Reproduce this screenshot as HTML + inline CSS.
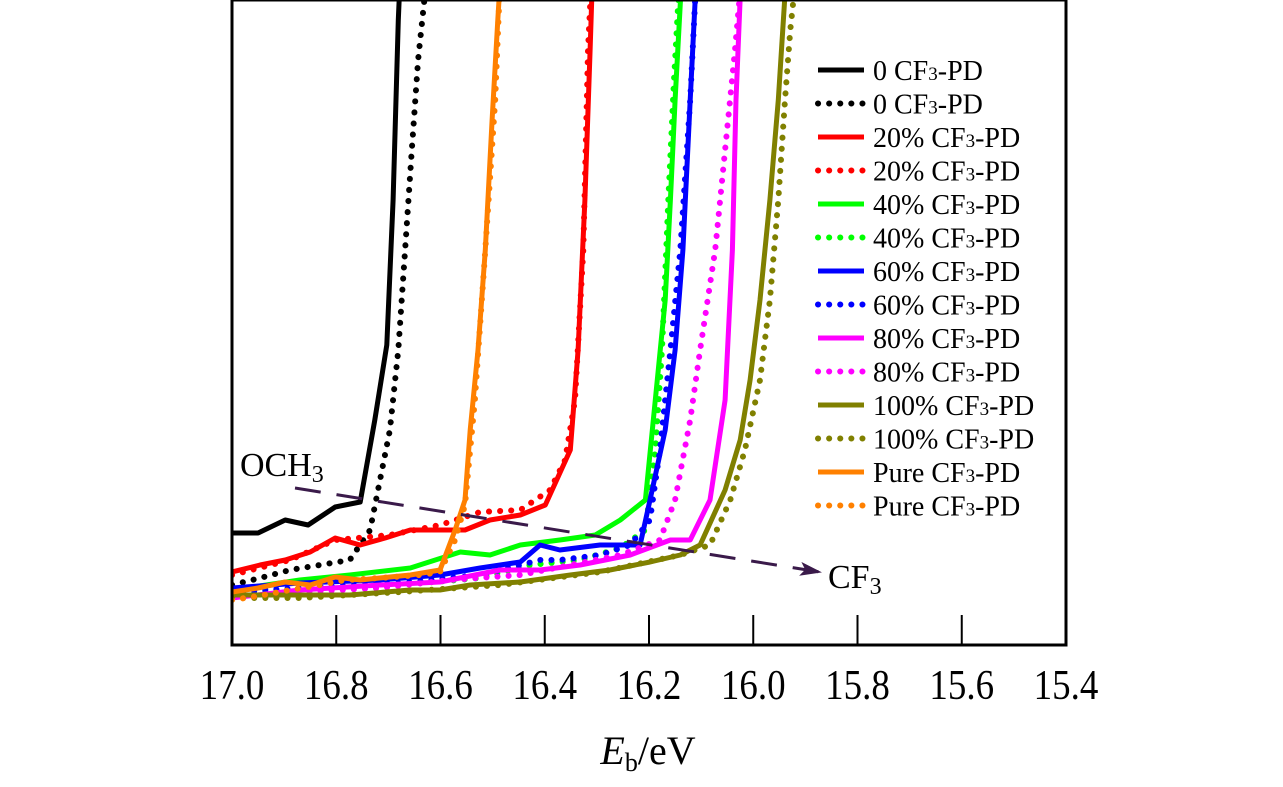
<!DOCTYPE html>
<html><head><meta charset="utf-8"><style>
html,body{margin:0;padding:0;background:#fff;}
svg{display:block;font-family:"Liberation Serif",serif;}
</style></head><body>
<svg id="c" width="1283" height="787" viewBox="0 0 1283 787"></svg>
<script>
const xTicks=[17.0,16.8,16.6,16.4,16.2,16.0,15.8,15.6,15.4];
const xTickLabels=["17.0","16.8","16.6","16.4","16.2","16.0","15.8","15.6","15.4"];
const seriesNames=["0 CF3-PD","0 CF3-PD","20% CF3-PD","20% CF3-PD","40% CF3-PD","40% CF3-PD","60% CF3-PD","60% CF3-PD","80% CF3-PD","80% CF3-PD","100% CF3-PD","100% CF3-PD","Pure CF3-PD","Pure CF3-PD"];
const seriesColors=["#000","#000","#f00","#f00","#0f0","#0f0","#00f","#00f","#f0f","#f0f","#808000","#808000","#ff8000","#ff8000"];
const seriesDotted=[0,1,0,1,0,1,0,1,0,1,0,1,0,1];
const s0=[[17,112],[16.95,112],[16.898,125],[16.854,120],[16.802,138],[16.754,143],[16.726,225],[16.703,300],[16.691,445],[16.681,625],[16.678,660]];
const s1=[[17,60],[16.946,67],[16.889,75],[16.831,80],[16.774,85],[16.735,115],[16.716,165],[16.697,215],[16.681,295],[16.668,395],[16.655,495],[16.643,585],[16.628,660]];
const s2=[[17,73],[16.946,80],[16.898,85],[16.85,93],[16.802,107],[16.754,100],[16.706,107],[16.658,115],[16.601,115],[16.553,115],[16.505,125],[16.447,130],[16.399,140],[16.351,195],[16.336,295],[16.323,445],[16.313,595],[16.309,660]];
const s3=[[17,70],[16.889,85],[16.802,105],[16.697,110],[16.601,120],[16.524,133],[16.447,135],[16.39,155],[16.361,185],[16.342,245],[16.326,395],[16.317,595],[16.311,660]];
const s4=[[17,55],[16.87,65],[16.774,70],[16.658,77],[16.562,93],[16.505,90],[16.447,100],[16.371,105],[16.303,110],[16.255,125],[16.207,145],[16.188,245],[16.169,345],[16.159,445],[16.15,545],[16.138,660]];
const s5=[[17,50],[16.87,55],[16.678,60],[16.524,67],[16.428,80],[16.332,85],[16.255,97],[16.207,115],[16.188,195],[16.175,295],[16.163,445],[16.152,565],[16.142,660]];
const s6=[[17,57],[16.87,62],[16.716,65],[16.601,70],[16.524,77],[16.447,83],[16.409,100],[16.371,95],[16.294,100],[16.217,100],[16.198,145],[16.169,215],[16.15,295],[16.135,395],[16.121,545],[16.11,660]];
const s7=[[17,53],[16.87,57],[16.678,62],[16.524,70],[16.409,85],[16.371,85],[16.294,90],[16.236,100],[16.198,125],[16.179,195],[16.159,295],[16.14,395],[16.121,545],[16.11,660]];
const s8=[[17,47],[16.87,55],[16.716,60],[16.601,63],[16.486,75],[16.409,75],[16.332,80],[16.236,90],[16.159,105],[16.121,105],[16.083,145],[16.054,245],[16.04,395],[16.033,545],[16.024,660]];
const s9=[[17,47],[16.87,53],[16.716,57],[16.582,65],[16.447,70],[16.351,80],[16.255,90],[16.179,105],[16.15,145],[16.121,225],[16.102,295],[16.073,395],[16.054,495],[16.035,595],[16.024,660]];
const s10=[[17,50],[16.889,50],[16.774,50],[16.658,55],[16.601,55],[16.543,60],[16.447,63],[16.351,70],[16.275,75],[16.198,83],[16.14,90],[16.102,100],[16.054,155],[16.025,205],[16.006,265],[15.987,345],[15.968,445],[15.952,545],[15.938,660]];
const s11=[[17,47],[16.87,47],[16.678,53],[16.486,60],[16.294,73],[16.14,90],[16.083,100],[16.044,145],[16.016,195],[15.987,265],[15.968,345],[15.952,445],[15.939,545],[15.929,615],[15.92,660]];
const s12=[[17,53],[16.95,57],[16.898,63],[16.85,60],[16.802,68],[16.754,65],[16.697,68],[16.658,70],[16.601,75],[16.572,115],[16.553,145],[16.543,215],[16.528,295],[16.514,395],[16.501,525],[16.49,625],[16.486,660]];
const s13=[[17,45],[16.95,49],[16.889,55],[16.831,60],[16.783,65],[16.716,67],[16.639,70],[16.601,73],[16.572,105],[16.553,140],[16.534,245],[16.514,395],[16.495,545],[16.486,660]];
const allSeries=[s0,s1,s2,s3,s4,s5,s6,s7,s8,s9,s10,s11,s12,s13];
const L=232,R=1066,T=0,B=645;
const xs=v=>L+(17-v)/1.6*(R-L);
const ys=v=>B-v;
const NS="http://www.w3.org/2000/svg";
const svg=document.getElementById('c');
function mk(t,a,p){const e=document.createElementNS(NS,t);for(const k in a)e.setAttribute(k,a[k]);(p||svg).appendChild(e);return e;}
const defs=mk('defs',{});
const clip=mk('clipPath',{id:'pc'},defs);mk('rect',{x:L,y:T,width:R-L,height:B-T},clip);
const mkr=mk('marker',{id:'ah',markerWidth:22,markerHeight:14,refX:20,refY:7,orient:'auto',markerUnits:'userSpaceOnUse'},defs);
mk('path',{d:'M0,0 L22,7 L0,14 L5,7 Z',fill:'#3a1a4a'},mkr);
const g=mk('g',{'clip-path':'url(#pc)'});
allSeries.forEach((s,i)=>{
 const p=mk('polyline',{points:s.map(d=>xs(d[0]).toFixed(1)+','+ys(d[1]).toFixed(1)).join(' '),fill:'none',stroke:seriesColors[i],'stroke-width':seriesDotted[i]?6:5,'stroke-linejoin':'round','stroke-linecap':'round'},g);
 if(seriesDotted[i])p.setAttribute('stroke-dasharray','0.1 11');
 
 
});
const ar=mk('line',{x1:295,y1:488,x2:820,y2:572,stroke:'#3a1a4a','stroke-width':3,'stroke-dasharray':'26 16','marker-end':'url(#ah)'});


const fr=mk('rect',{x:L,y:T,width:R-L,height:B-T,fill:'none',stroke:'#000','stroke-width':3});


xTicks.forEach((v,i)=>{
 const t=mk('line',{x1:xs(v),y1:B,x2:xs(v),y2:B-30,stroke:'#000','stroke-width':2});
 
 
 const tx=mk('text',{x:xs(v),y:B+54,'font-size':42,'text-anchor':'middle',transform:'translate('+xs(v)+' 0) scale(0.88 1) translate('+(-xs(v))+' 0)'});tx.textContent=xTickLabels[i];
 
 
});
seriesNames.forEach((n,i)=>{
 const y=70+i*33.5;
 const l=mk('line',{x1:818,y1:y,x2:864,y2:y,stroke:seriesColors[i],'stroke-width':seriesDotted[i]?6:5,'stroke-linecap':seriesDotted[i]?'round':'butt'});
 if(seriesDotted[i])l.setAttribute('stroke-dasharray','0.1 11');
 
 
 const t=mk('text',{x:873,y:y+10,'font-size':28});
 const parts=n.split('3');
 t.appendChild(document.createTextNode(parts[0]));
 const sub=mk('tspan',{'font-size':19},t);sub.textContent='3';
 t.appendChild(document.createTextNode(parts[1]));
 
 
});
</script>
<svg style="position:absolute;left:0;top:0" width="1283" height="787">
<text x="240" y="476" font-family="Liberation Serif, serif" font-size="34">OCH<tspan font-size="24" dy="6">3</tspan></text>
<text x="828" y="588" font-family="Liberation Serif, serif" font-size="34">CF<tspan font-size="24" dy="6">3</tspan></text>
<text x="648" y="764" text-anchor="middle" font-family="Liberation Serif, serif" font-size="40"><tspan font-style="italic">E</tspan><tspan font-size="26" dy="7">b</tspan><tspan dy="-7">/eV</tspan></text>
</svg>
</body></html>
